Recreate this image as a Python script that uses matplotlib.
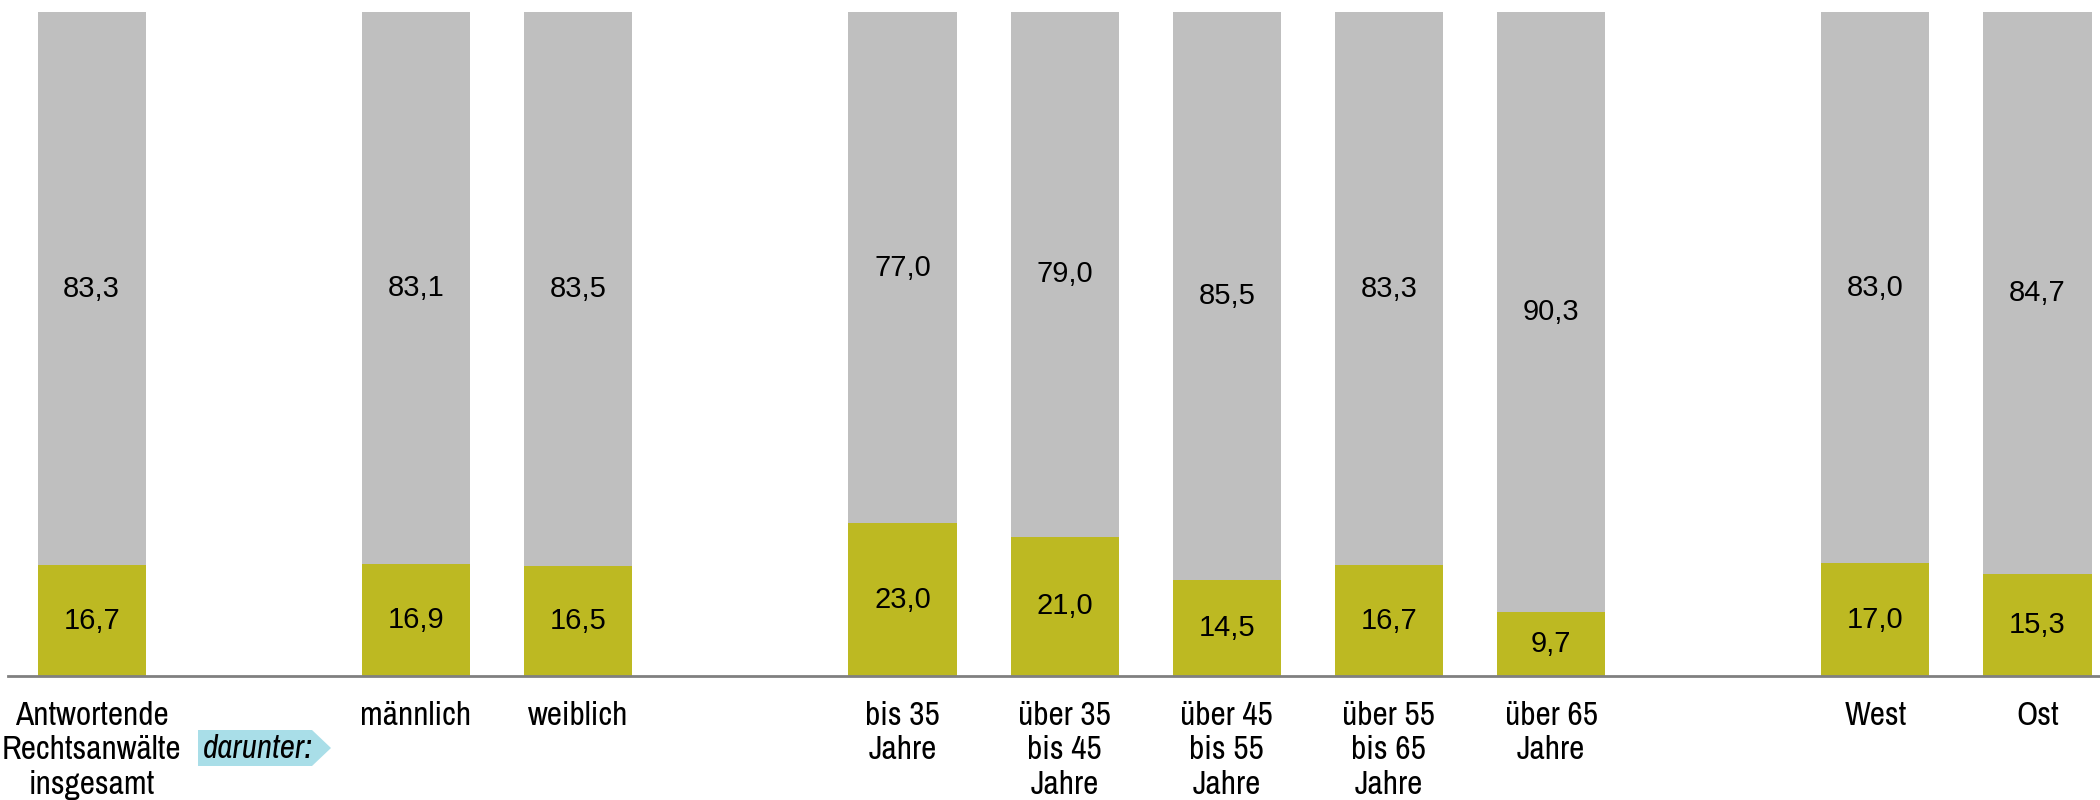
import matplotlib
matplotlib.use('Agg')
import matplotlib.pyplot as plt
from matplotlib.patches import Polygon
from matplotlib import font_manager

# Daten
categories = ['Antwortende\nRechtsanwälte\ninsgesamt', 'männlich', 'weiblich',
              'bis 35\nJahre', 'über 35\nbis 45\nJahre', 'über 45\nbis 55\nJahre',
              'über 55\nbis 65\nJahre', 'über 65\nJahre', 'West', 'Ost']
slots = [0, 2, 3, 5, 6, 7, 8, 9, 11, 12]
olive_vals = [16.7, 16.9, 16.5, 23.0, 21.0, 14.5, 16.7, 9.7, 17.0, 15.3]
grey_vals = [83.3, 83.1, 83.5, 77.0, 79.0, 85.5, 83.3, 90.3, 83.0, 84.7]

# schmale Schrift suchen (wie Arial Narrow)
names = {f.name for f in font_manager.fontManager.ttflist}
narrow = 'Liberation Sans'
for cand in ['Liberation Sans Narrow', 'Arial Narrow', 'Archivo Narrow', 'PT Sans Narrow',
             'Roboto Condensed', 'Pragati Narrow', 'Open Sans Condensed', 'Sofia Sans Condensed',
             'Encode Sans Condensed', 'Fira Sans Condensed', 'IBM Plex Sans Condensed']:
    if cand in names:
        narrow = cand
        break

col_olive = '#BDB922'
col_grey = '#BFBFBF'

fig = plt.figure(figsize=(21, 8), dpi=100)
ax = fig.add_axes([8/2100, 124/800, 1 - 8/2100, 664/800])

ax.bar(slots, olive_vals, width=0.667, color=col_olive)
ax.bar(slots, grey_vals, width=0.667, bottom=olive_vals, color=col_grey)

for x, o, g in zip(slots, olive_vals, grey_vals):
    ax.text(x, o / 2, f'{o:.1f}'.replace('.', ','), ha='center', va='center',
            fontsize=21, family='Liberation Sans')
    ax.text(x, o + g / 2, f'{g:.1f}'.replace('.', ','), ha='center', va='center',
            fontsize=21, family='Liberation Sans')

ax.set_xlim(-0.516, 12.385)
ax.set_ylim(0, 100)
for s in ['top', 'right', 'left']:
    ax.spines[s].set_visible(False)
ax.spines['bottom'].set_color('#808080')
ax.spines['bottom'].set_linewidth(2)
ax.set_yticks([])
ax.set_xticks(slots)
ax.set_xticklabels(categories, fontsize=24, family=narrow, linespacing=1.18)
ax.tick_params(axis='x', length=0, pad=18)

# "darunter:" Pfeil
W, H = 2100, 800
pts = [(198, 730), (312, 730), (331, 748), (312, 766), (198, 766)]
poly = Polygon([(x / W, 1 - y / H) for x, y in pts], closed=True,
               transform=fig.transFigure, facecolor='#A9DEE8', edgecolor='none')
fig.patches.append(poly)
fig.text(258 / W, 1 - 749 / H, 'darunter:', ha='center', va='center',
         fontsize=24, style='italic', family=narrow)

fig.savefig('out.png', dpi=100)
